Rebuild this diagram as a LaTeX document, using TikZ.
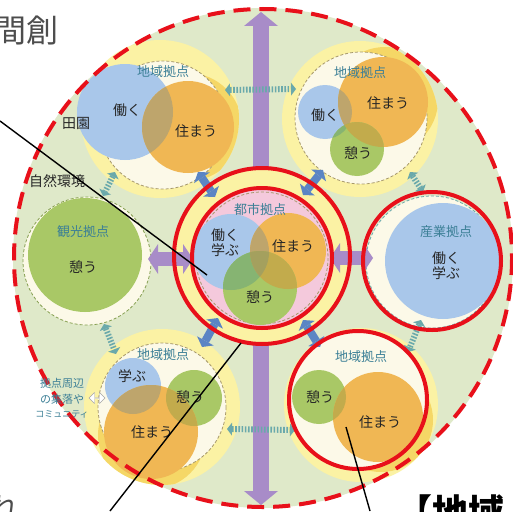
\documentclass[tikz,border=0pt]{standalone}
\usepackage{fontspec}
\newfontfamily\jp{Noto Sans CJK JP}
\usetikzlibrary{arrows.meta,shapes.arrows}
\definecolor{bggreen}{HTML}{DFE9C9}
\definecolor{yring}{HTML}{FBF2A4}
\definecolor{halo}{HTML}{F5D766}
\definecolor{cream}{HTML}{FCF9E8}
\definecolor{pinkc}{HTML}{F4C9DC}
\definecolor{bluec}{HTML}{A9C7EA}
\definecolor{orangec}{HTML}{F0B754}
\definecolor{greenc}{HTML}{A9C866}
\definecolor{ovBO}{HTML}{BEA56C}
\definecolor{ovBG}{HTML}{86B472}
\definecolor{ovOG}{HTML}{C2AB4C}
\definecolor{ovBOG}{HTML}{A4A05E}
\definecolor{purplec}{HTML}{A88CC8}
\definecolor{bluea}{HTML}{5B85C4}
\definecolor{tealc}{HTML}{6AA9AB}
\definecolor{textteal}{HTML}{3B7F96}
\definecolor{redc}{HTML}{E8101A}
\definecolor{dashc}{HTML}{A6986A}
\definecolor{graytxt}{HTML}{4D4D4D}
\newcommand\myov[3]{\begin{scope}\clip #1;\fill[#3] #2;\end{scope}}
\newcommand\myovthree[4]{\begin{scope}\clip #1;\clip #2;\fill[#4] #3;\end{scope}}
\begin{document}
\begin{tikzpicture}[x=1pt,y=-1pt,
  lbl/.style={font=\jp\fontsize{13}{13}\selectfont, text=textteal, inner sep=0pt},
  txt/.style={font=\jp\fontsize{14}{14}\selectfont, text=black!85, inner sep=0pt},
  hubdash/.style={draw=dashc, line width=0.8pt, dash pattern=on 3pt off 2pt},
  redring/.style={draw=redc, line width=4pt},
  parrow/.style={draw=purplec, line width=#1},
  barrow/.style={draw=bluea, line width=8pt, {Triangle[width=19pt,length=7pt,line width=0pt]}-{Triangle[width=19pt,length=7pt,line width=0pt]}},
  tarrow/.style={draw=tealc, line width=6pt, dash pattern=on 1.6pt off 1.6pt, {Triangle[width=13pt,length=5pt,line width=0pt]}-{Triangle[width=13pt,length=5pt,line width=0pt]}},
  callout/.style={draw=black, line width=1.4pt}]
\useasboundingbox (0,0) rectangle (513,511);
\fill[white] (0,0) rectangle (513,511);
% big region
\fill[bggreen] (263,258) circle[radius=250];
% vertical purple arrow
\coordinate (vtop) at (261,12);
\coordinate (vbot) at (261,505);
\draw[parrow=16pt, {Triangle[width=34pt,length=14pt,line width=0pt]}-{Triangle[width=34pt,length=14pt,line width=0pt]}] (vtop) -- (vbot);
% ---- top-left hub
\fill[yring] (160,119) circle[radius=79];
\myov{(160,119) circle[radius=79]}{(188,127) circle[radius=54]}{halo}
\fill[cream] (163,125) circle[radius=64];
\draw[hubdash] (163,125) circle[radius=64];
\fill[bluec] (125,112) circle[radius=48];
\fill[orangec] (188,127) circle[radius=46];
\myov{(125,112) circle[radius=48]}{(188,127) circle[radius=46]}{ovBO}
% ---- top-right hub
\fill[yring] (360,119) circle[radius=78];
\myov{(360,119) circle[radius=78]}{(385,100) circle[radius=53]}{halo}
\fill[cream] (361,118) circle[radius=66];
\draw[hubdash] (361,118) circle[radius=66];
\fill[bluec] (325,112) circle[radius=27];
\fill[orangec] (383,102) circle[radius=45];
\fill[greenc] (357,149) circle[radius=27];
\myov{(325,112) circle[radius=27]}{(383,102) circle[radius=45]}{ovBO}
\myov{(325,112) circle[radius=27]}{(357,149) circle[radius=27]}{ovBG}
\myov{(383,102) circle[radius=45]}{(357,149) circle[radius=27]}{ovOG}
% ---- left hub
\fill[cream] (87,261) circle[radius=64];
\draw[draw=greenc!80!black, line width=0.8pt, dash pattern=on 3pt off 2pt] (87,261) circle[radius=64];
\fill[greenc] (85,255) circle[radius=57];
% ---- right hub
\fill[cream] (432,262) circle[radius=66];
\draw[draw=tealc, line width=0.8pt, dash pattern=on 3pt off 2pt] (432,262) circle[radius=66];
\fill[bluec] (443,261) circle[radius=58];
% ---- bottom-left hub
\fill[yring] (162,407) circle[radius=78];
\myov{(162,407) circle[radius=78]}{(152,435) circle[radius=54]}{halo}
\fill[cream] (162,407) circle[radius=64];
\draw[hubdash] (162,407) circle[radius=64];
\fill[bluec] (133,386) circle[radius=28];
\fill[greenc] (194,398) circle[radius=28];
\fill[orangec] (151,432) circle[radius=47];
\myov{(133,386) circle[radius=28]}{(151,432) circle[radius=47]}{ovBO}
\myov{(194,398) circle[radius=28]}{(151,432) circle[radius=47]}{ovOG}
% ---- bottom-right hub
\fill[yring] (361,405) circle[radius=77];
\myov{(361,405) circle[radius=77]}{(381,420) circle[radius=52]}{halo}
\fill[cream] (358,400) circle[radius=68];
\fill[greenc] (319,397) circle[radius=27];
\fill[orangec] (378,417) circle[radius=45];
\myov{(319,397) circle[radius=27]}{(378,417) circle[radius=45]}{ovOG}
% ---- teal dotted arrows
\coordinate (t1a) at (225,90); \coordinate (t1b) at (296,89);
\coordinate (t2a) at (115,172); \coordinate (t2b) at (103,196);
\coordinate (t3a) at (104,324); \coordinate (t3b) at (116,354);
\coordinate (t4a) at (227,429); \coordinate (t4b) at (295,430);
\coordinate (t5a) at (410,172); \coordinate (t5b) at (423,192);
\coordinate (t6a) at (421,320); \coordinate (t6b) at (408,352);
\draw[tarrow] (t1a) -- (t1b);
\draw[tarrow] (t2a) -- (t2b);
\draw[tarrow] (t3a) -- (t3b);
\draw[tarrow] (t4a) -- (t4b);
\draw[tarrow] (t5a) -- (t5b);
\draw[tarrow] (t6a) -- (t6b);
% community arrow
\node[double arrow, draw=gray!70, fill=white, minimum width=11pt, minimum height=16pt, double arrow head extend=2pt, inner sep=0pt] (comm) at (97,398) {};
% ---- center hub
\fill[yring] (262,256) circle[radius=88];
\coordinate (b1a) at (198,172); \coordinate (b1b) at (215,197);
\coordinate (b2a) at (323,170); \coordinate (b2b) at (303,195);
\coordinate (b3a) at (218,318); \coordinate (b3b) at (202,347);
\coordinate (b4a) at (303,320); \coordinate (b4b) at (320,347);
\draw[barrow] (b1a) -- (b1b);
\draw[barrow] (b2a) -- (b2b);
\draw[barrow] (b3a) -- (b3b);
\draw[barrow] (b4a) -- (b4b);
\coordinate (h1a) at (148,259); \coordinate (h1b) at (193,259);
\coordinate (h2a) at (330,258); \coordinate (h2b) at (373,258);
\draw[parrow=14pt, {Triangle[width=30pt,length=10pt,line width=0pt]}-{Triangle[width=30pt,length=10pt,line width=0pt]}] (h1a) -- (h1b);
\draw[parrow=14pt, {Triangle[width=30pt,length=10pt,line width=0pt]}-{Triangle[width=30pt,length=10pt,line width=0pt]}] (h2a) -- (h2b);
\fill[pinkc] (262,258) circle[radius=69];
\draw[hubdash] (262,258) circle[radius=66];
\fill[bluec] (231,252) circle[radius=38];
\fill[orangec] (288,251) circle[radius=38];
\fill[greenc] (260,288) circle[radius=37];
\myov{(231,252) circle[radius=38]}{(288,251) circle[radius=38]}{ovBO}
\myov{(231,252) circle[radius=38]}{(260,288) circle[radius=37]}{ovBG}
\myov{(288,251) circle[radius=38]}{(260,288) circle[radius=37]}{ovOG}
\myovthree{(231,252) circle[radius=38]}{(288,251) circle[radius=38]}{(260,288) circle[radius=37]}{ovBOG}
% ---- red rings
\draw[redring] (262,256) circle[radius=88];
\draw[redring] (262,258) circle[radius=70];
\draw[redring] (432,261) circle[radius=69];
\draw[redring] (358,400) circle[radius=69];
\draw[draw=redc, line width=4pt, dash pattern=on 17pt off 9pt] (263,258) circle[radius=249];
% ---- texts
\node[lbl] (l1) at (163,72) {地域拠点};
\node[txt] (w1) at (127,110) {働く};
\node[txt] (s1) at (196,131) {住まう};
\node[txt] (den) at (76,123) {田園};
\node[txt] (shz) at (57,181) {自然環境};
\node[lbl] (l2) at (360,73) {地域拠点};
\node[txt] (w2) at (325,115) {働く};
\node[txt] (s2) at (388,103) {住まう};
\node[txt] (i2) at (358,153) {憩う};
\node[lbl] (l3) at (83,232) {観光拠点};
\node[txt] (i3) at (83,267) {憩う};
\node[lbl] (l4) at (260,210) {都市拠点};
\node[txt] (w4) at (225,235) {働く};
\node[txt] (m4) at (225,250) {学ぶ};
\node[txt] (s4) at (293,246) {住まう};
\node[txt] (i4) at (260,297) {憩う};
\node[lbl] (l5) at (446,232) {産業拠点};
\node[txt] (w5) at (446,258) {働く};
\node[txt] (m5) at (446,273) {学ぶ};
\node[lbl] (l6) at (163,355) {地域拠点};
\node[txt] (m6) at (132,376) {学ぶ};
\node[txt] (i6) at (190,397) {憩う};
\node[txt] (s6) at (152,432) {住まう};
\node[lbl] (l7) at (361,357) {地域拠点};
\node[txt] (i7) at (320,397) {憩う};
\node[txt] (s7) at (380,422) {住まう};
\node[font=\jp\fontsize{11}{11}\selectfont, text=textteal, inner sep=0pt] (c1) at (62,383) {拠点周辺};
\node[font=\jp\fontsize{11}{11}\selectfont, text=textteal, inner sep=0pt] (c2) at (62,399) {の集落や};
\node[font=\jp\fontsize{9}{9}\selectfont, text=textteal, inner sep=0pt] (c3) at (62,414) {コミュニティ};
% ---- outside texts
\node[font=\jp\fontsize{32}{32}\selectfont, text=graytxt, anchor=east, inner sep=0pt] (ttl) at (59,31) {間創};
\node[font=\jp\fontsize{30}{30}\selectfont, text=graytxt, inner sep=0pt] (re) at (5,508) {れ};
\node[font=\jp\bfseries\fontsize{36}{36}\selectfont, anchor=north west, inner sep=0pt] (chiiki) at (396,494) {【地域};
% ---- callout lines
\coordinate (k1a) at (0,121); \coordinate (k1b) at (207,275);
\coordinate (k2a) at (241,343); \coordinate (k2b) at (110,511);
\coordinate (k3a) at (346,427); \coordinate (k3b) at (370,511);
\draw[callout] (k1a) -- (k1b);
\draw[callout] (k2a) -- (k2b);
\draw[callout] (k3a) -- (k3b);
\end{tikzpicture}
\end{document}
